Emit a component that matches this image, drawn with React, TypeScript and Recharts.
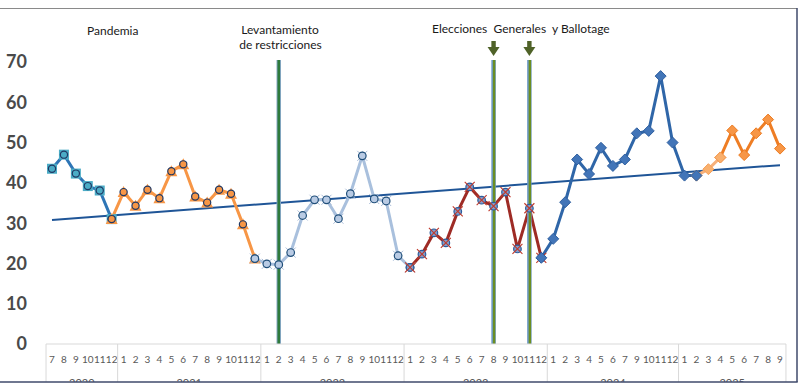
import { Line, LineChart, ReferenceLine, XAxis, YAxis } from "recharts";

// month labels along the axis (2024 has no "8" in the source)
const MONTHS = [
  "7", "8", "9", "10", "11", "12",
  "1", "2", "3", "4", "5", "6", "7", "8", "9", "10", "11", "12",
  "1", "2", "3", "4", "5", "6", "7", "8", "9", "10", "11", "12",
  "1", "2", "3", "4", "5", "6", "7", "8", "9", "10", "11", "12",
  "1", "2", "3", "4", "5", "6", "7", "9", "10", "11", "12",
  "1", "2", "3", "4", "5", "6", "7", "8", "9",
];
const YEARS = ["2020", "2021", "2022", "2023", "2024", "2025"];
const YEAR_SIZES = [6, 12, 12, 12, 11, 9];

const VALUES = [
  43.5, 47.0, 42.3, 39.2, 38.1, 31.0,
  37.7, 34.3, 38.3, 36.2, 42.9, 44.6, 36.6, 35.1, 38.3, 37.3, 29.7, 21.2,
  19.9, 19.7, 22.7, 31.9, 35.8, 35.8, 31.1, 37.3, 46.7, 36.0, 35.5, 21.9,
  19.0, 22.3, 27.6, 25.1, 32.9, 39.0, 35.7, 34.2, 37.7, 23.6, 33.7, 21.4,
  26.1, 35.2, 45.8, 42.2, 48.7, 44.2, 45.8, 52.3, 52.9, 66.5, 50.0,
  41.8, 41.8, 43.4, 46.3, 53.0, 46.9, 52.3, 55.7, 48.5,
];

// index ranges of each coloured stretch, in drawing order
const SEGMENTS: [string, number, number][] = [
  ["s2020", 0, 5],
  ["s2021", 5, 17],
  ["s2022", 17, 30],
  ["s2023", 30, 41],
  ["s2025b", 56, 61],
  ["s2025a", 54, 56],
  ["s2024", 41, 54],
];
const TREND_ENDS = [30.8, 44.4];
const LEVANTAMIENTO_AT = 19;
const ELECCIONES_AT = [37, 40];

const data = MONTHS.map((m, i) => {
  const row: Record<string, number | string | null> = { idx: i, month: m };
  for (const [key, a, b] of SEGMENTS) row[key] = i >= a && i <= b ? VALUES[i] : null;
  row.trend = i === 0 ? TREND_ENDS[0] : i === MONTHS.length - 1 ? TREND_ENDS[1] : null;
  return row;
});

const STEP = 728 / 61;
const FONT = "Lato, 'Open Sans', sans-serif";

const yearStarts = YEAR_SIZES.map((_, g) => YEAR_SIZES.slice(0, g).reduce((s, n) => s + n, 0));

function MonthTick(props: any) {
  const { x, y, payload } = props;
  const i = payload.value as number;
  const parts: any[] = [];
  if (yearStarts.includes(i)) {
    parts.push(<line key="sl" x1={x - STEP / 2} x2={x - STEP / 2} y1={y} y2={y + 38} stroke="#d9d9d9" />);
  }
  if (i === MONTHS.length - 1) {
    parts.push(<line key="sr" x1={x + STEP / 2} x2={x + STEP / 2} y1={y} y2={y + 38} stroke="#d9d9d9" />);
  }
  YEARS.forEach((yr, g) => {
    const c = yearStarts[g] + (YEAR_SIZES[g] - 1) / 2;
    if (Math.floor(c) === i) {
      parts.push(
        <text key="yr" x={x + (c - i) * STEP} y={y + 43} textAnchor="middle" fontSize={11} fill="#595959" fontFamily={FONT}>
          {yr}
        </text>
      );
    }
  });
  return (
    <g>
      <text x={x} y={y + 19} textAnchor="middle" fontSize={10} fill="#595959" fontFamily={FONT}>
        {MONTHS[i]}
      </text>
      {parts}
    </g>
  );
}

const empty = (p: any) => <g key={`e-${p.index}`} />;

const squareDot = (p: any) => {
  if (p.cy == null || p.value == null) return empty(p);
  return (
    <g key={`q-${p.index}`}>
      <rect x={p.cx - 5} y={p.cy - 5} width={10} height={10} fill="#4bacc6" />
      <circle cx={p.cx} cy={p.cy} r={3.6} fill="#4bacc6" stroke="#1f3864" strokeWidth={1.2} />
    </g>
  );
};

const triangleDot = (p: any) => {
  if (p.cy == null || p.value == null) return empty(p);
  const { cx, cy } = p;
  return (
    <g key={`t-${p.index}`}>
      <polygon points={`${cx},${cy - 6} ${cx + 6},${cy + 5} ${cx - 6},${cy + 5}`} fill="#f79646" />
      <circle cx={cx} cy={cy} r={3.6} fill="#f79646" stroke="#1f3864" strokeWidth={1.2} />
    </g>
  );
};

const lightDot = (p: any) => {
  if (p.cy == null || p.value == null) return empty(p);
  const { cx, cy } = p;
  return (
    <g key={`l-${p.index}`}>
      <path d={`M${cx - 5},${cy - 5}L${cx + 5},${cy + 5}M${cx - 5},${cy + 5}L${cx + 5},${cy - 5}`} stroke="#a9bcd8" strokeWidth={1} />
      <circle cx={cx} cy={cy} r={3.8} fill="#b9cbe4" stroke="#1f4e79" strokeWidth={1.2} />
    </g>
  );
};

const redDot = (p: any) => {
  if (p.cy == null || p.value == null) return empty(p);
  const { cx, cy } = p;
  return (
    <g key={`r-${p.index}`}>
      <circle cx={cx} cy={cy} r={3.8} fill="#7f9fcf" stroke="#2e5c9a" strokeWidth={1.2} />
      <path d={`M${cx - 5},${cy - 5}L${cx + 5},${cy + 5}M${cx - 5},${cy + 5}L${cx + 5},${cy - 5}`} stroke="#c0392b" strokeWidth={1.1} />
    </g>
  );
};

const diamond = (fill: string, stroke: string) => (p: any) => {
  if (p.cy == null || p.value == null) return empty(p);
  const { cx, cy } = p;
  return (
    <polygon
      key={`dm-${p.index}`}
      points={`${cx},${cy - 5.5} ${cx + 5.5},${cy} ${cx},${cy + 5.5} ${cx - 5.5},${cy}`}
      fill={fill}
      stroke={stroke}
      strokeWidth={1}
    />
  );
};

const SERIES_STYLE: Record<string, { stroke: string; dot: any }> = {
  s2020: { stroke: "#2e75b6", dot: squareDot },
  s2021: { stroke: "#f79646", dot: triangleDot },
  s2022: { stroke: "#a9c0dd", dot: lightDot },
  s2023: { stroke: "#9e2b25", dot: redDot },
  s2024: { stroke: "#2f66a8", dot: diamond("#4275b8", "#2f5f9f") },
  s2025a: { stroke: "#f6b07a", dot: diamond("#f9b06e", "#f5a05a") },
  s2025b: { stroke: "#ee7d24", dot: diamond("#f79646", "#ec7a1f") },
};

const levantamientoShape = (p: any) => {
  const top = Math.min(p.y1, p.y2);
  const bottom = Math.max(p.y1, p.y2);
  return (
    <g>
      <line x1={p.x1} x2={p.x1} y1={top - 2} y2={bottom} stroke="#86a8c6" strokeWidth={4.5} />
      <line x1={p.x1} x2={p.x1} y1={top - 2} y2={bottom} stroke="#2f7a3c" strokeWidth={2.6} />
    </g>
  );
};

const eleccionShape = (p: any) => {
  const x = p.x1;
  const t = Math.min(p.y1, p.y2);
  const b = Math.max(p.y1, p.y2);
  return (
    <g>
      <line x1={x} x2={x} y1={t - 2} y2={b} stroke="#6f9bc9" strokeWidth={4.5} />
      <line x1={x + 0.5} x2={x + 0.5} y1={t - 2} y2={b} stroke="#6b8e23" strokeWidth={2.4} />
      <rect x={x - 2.2} y={t - 21} width={4.4} height={7} fill="#4f6228" />
      <polygon points={`${x - 6},${t - 15} ${x + 6},${t - 15} ${x},${t - 6}`} fill="#4f6228" />
    </g>
  );
};

export default function App() {
  return (
    <div style={{ position: "absolute", left: 0, top: 0, width: 800, height: 391, background: "#fff", overflow: "hidden" }}>
      <LineChart width={800} height={391} data={data} margin={{ top: 62, right: 14, bottom: 0, left: 0 }}>
        <XAxis
          dataKey="idx"
          type="category"
          scale="point"
          interval={0}
          padding={{ left: 6, right: 6 }}
          height={47}
          tickSize={0}
          tickMargin={0}
          tickLine={false}
          axisLine={{ stroke: "#d9d9d9" }}
          tick={<MonthTick />}
        />
        <YAxis
          domain={[0, 70]}
          ticks={[0, 10, 20, 30, 40, 50, 60, 70]}
          width={46}
          axisLine={false}
          tickLine={false}
          tickSize={0}
          tickMargin={19}
          tick={{ fontSize: 18, fontWeight: 700, fill: "#4a4a4a", fontFamily: FONT }}
        />
        <Line
          dataKey="trend"
          stroke="#1f5597"
          strokeWidth={2}
          dot={false}
          connectNulls
          isAnimationActive={false}
        />
        {SEGMENTS.map(([key]) => (
          <Line
            key={key}
            dataKey={key}
            stroke={SERIES_STYLE[key].stroke}
            strokeWidth={3}
            dot={SERIES_STYLE[key].dot}
            activeDot={false}
            isAnimationActive={false}
          />
        ))}
        <ReferenceLine x={LEVANTAMIENTO_AT} shape={levantamientoShape} />
        {ELECCIONES_AT.map((e) => (
          <ReferenceLine key={e} x={e} shape={eleccionShape} />
        ))}
      </LineChart>
      <svg width={800} height={391} style={{ position: "absolute", left: 0, top: 0, pointerEvents: "none" }}>
        <g fontFamily={FONT} fontSize={12} fill="#1a1a1a">
          <text x={87} y={35}>Pandemia</text>
          <text x={280} y={34} textAnchor="middle">Levantamiento</text>
          <text x={280.5} y={49} textAnchor="middle">de restricciones</text>
          <text x={432} y={33} xmlSpace="preserve">Elecciones  Generales  y Ballotage</text>
        </g>
        <line x1={0} x2={797} y1={8.5} y2={8.5} stroke="#8a8a8a" strokeWidth={1} />
        <line x1={797} x2={797} y1={8} y2={382} stroke="#3f4a6b" strokeWidth={1.5} />
        <rect x={0} y={382} width={800} height={9} fill="#fff" />
        <line x1={0} x2={797.7} y1={382} y2={382} stroke="#3f4a6b" strokeWidth={1.5} />
      </svg>
    </div>
  );
}
